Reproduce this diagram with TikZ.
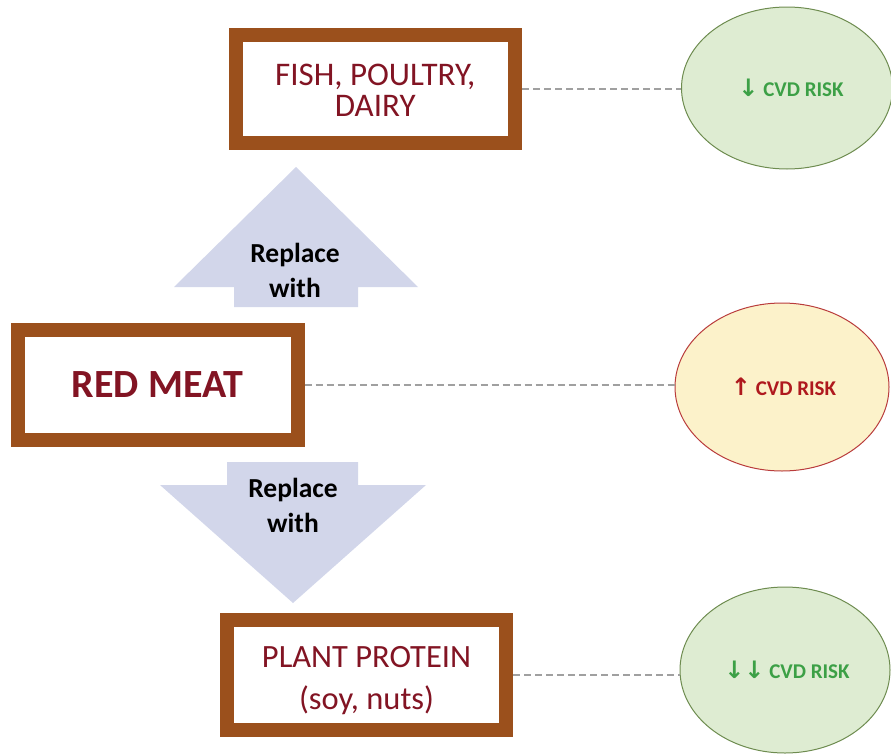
\documentclass[tikz,border=0pt]{standalone}
\usepackage{fontspec}
\setmainfont{Carlito}
\newfontfamily\arrowfont{DejaVu Sans}
\usetikzlibrary{shapes.geometric}
\definecolor{boxbrown}{RGB}{155,80,28}
\definecolor{maroon}{RGB}{130,20,35}
\definecolor{arrowfill}{RGB}{210,214,234}
\definecolor{greenfill}{RGB}{222,236,210}
\definecolor{greenline}{RGB}{110,140,80}
\definecolor{greentext}{RGB}{60,160,70}
\definecolor{yellowfill}{RGB}{252,242,202}
\definecolor{redline}{RGB}{185,60,60}
\definecolor{redtext}{RGB}{175,25,30}
\definecolor{dashgray}{RGB}{160,160,160}
\newcommand{\riskarrow}[1]{{\arrowfont\bfseries\fontsize{24}{24}\selectfont #1}}
\tikzset{
  foodbox/.style={draw=boxbrown, line width=14pt, fill=white, rectangle, inner sep=0pt,
    align=center, text=maroon},
  riskgreen/.style={ellipse, draw=greenline, line width=1pt, fill=greenfill, inner sep=0pt,
    text=greentext, font=\fontsize{21}{24}\selectfont\bfseries},
  riskred/.style={ellipse, draw=redline, line width=1pt, fill=yellowfill, inner sep=0pt,
    text=redtext, font=\fontsize{21}{24}\selectfont\bfseries},
  linker/.style={draw=dashgray, line width=2pt, dash pattern=on 7pt off 4pt},
  bigarrow/.style={fill=arrowfill},
  arrowtext/.style={align=center, font=\fontsize{27.5}{35}\selectfont\bfseries, text=black, inner sep=0pt}
}
\begin{document}
\begin{tikzpicture}[x=1pt,y=-1pt]
\useasboundingbox (0,0) rectangle (891,755);
% big arrows
\path[bigarrow] (234,307) -- (234,287) -- (174,287) -- (296,167) -- (418,287) -- (358,287) -- (358,307) -- cycle;
\path[bigarrow] (227,462) -- (358,462) -- (358,485) -- (426,485) -- (293,603) -- (160,485) -- (227,485) -- cycle;
\node[arrowtext] (uptext) at (295,270) {Replace\\with};
\node[arrowtext] (downtext) at (293,505) {Replace\\with};
% boxes
\node[foodbox, minimum width=279.5pt, minimum height=108.5pt,
  font=\fontsize{33}{31}\selectfont] (fish) at (375.25,88.75)
  {\raisebox{-12pt}[20pt][20pt]{\begin{tabular}{@{}c@{}}FISH, POULTRY,\\DAIRY\end{tabular}}};
\node[foodbox, minimum width=280pt, minimum height=110pt,
  font=\fontsize{40}{42}\selectfont\bfseries] (meat) at (157.5,385) {\raisebox{-1pt}{RED MEAT}};
\node[foodbox, minimum width=279pt, minimum height=109.5pt,
  font=\fontsize{32.5}{42}\selectfont] (plant) at (366.5,674.75)
  {\raisebox{-11.5pt}[20pt][20pt]{\begin{tabular}{@{}c@{}}PLANT PROTEIN\\(soy, nuts)\end{tabular}}};
% ellipses
\node[riskgreen, minimum width=211pt, minimum height=162pt] (r1) at (787,88)
  {\hspace*{8pt}\riskarrow{↓} CVD RISK};
\node[riskred, minimum width=214pt, minimum height=168pt] (r2) at (782,387)
  {\hspace*{3pt}\riskarrow{↑} CVD RISK};
\node[riskgreen, minimum width=210pt, minimum height=166pt] (r3) at (785,670)
  {\hspace*{4pt}\riskarrow{↓↓} CVD RISK};
% connectors
\draw[linker] (fish.east) -- (fish.east -| r1.west);
\draw[linker] (meat.east) -- (meat.east -| r2.west);
\draw[linker] (plant.east) -- (plant.east -| r3.west);
\end{tikzpicture}
\end{document}
